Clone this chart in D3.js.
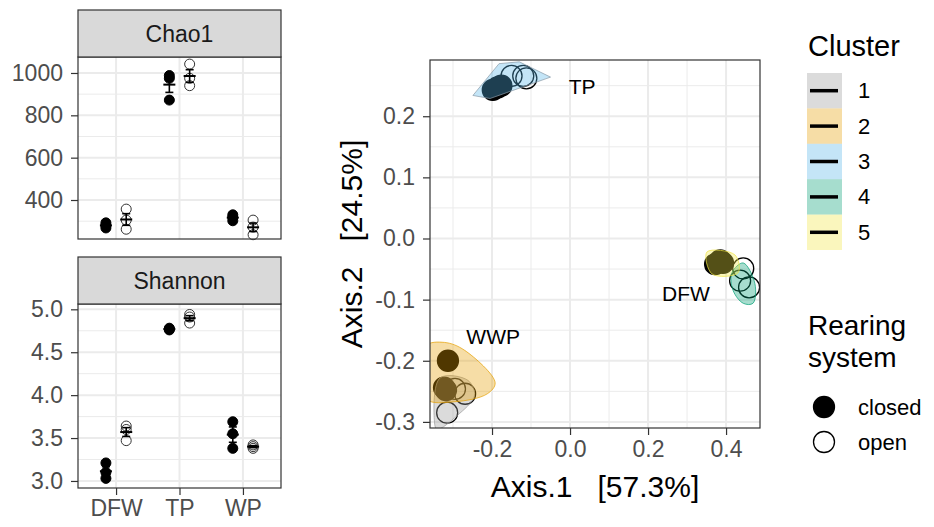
<!DOCTYPE html>
<html>
<head>
<meta charset="utf-8">
<script src="https://cdn.jsdelivr.net/npm/d3@7"></script>
<style>
  body { margin: 0; background: #fff; }
  text { font-family: "Liberation Sans", Arial, sans-serif; }
</style>
</head>
<body>
<div id="chart"></div>
<script>
// alpha diversity, three replicates per group and rearing system
var groups = ["DFW", "TP", "WP"];
var chao1Closed = [[292, 280, 268], [988, 975, 872], [330, 318, 302]];
var chao1Open = [[357, 305, 262], [1042, 975, 940], [305, 272, 236]];
var shannonClosed = [[3.21, 3.10, 3.03], [4.78, 4.77, 4.76], [3.69, 3.55, 3.38]];
var shannonOpen = [[3.64, 3.60, 3.47], [4.94, 4.91, 4.84], [3.42, 3.40, 3.38]];
var chao1Ticks = [400, 600, 800, 1000];
var shannonTicks = [3.0, 3.5, 4.0, 4.5, 5.0];

// PCoA samples
var pcoaX = [-0.198, -0.186, -0.176, -0.150, -0.112, -0.120,
             0.385, 0.372, 0.392, 0.444, 0.436, 0.459,
             -0.313, -0.323, -0.318, -0.295, -0.269, -0.315];
var pcoaY = [0.243, 0.247, 0.250, 0.266, 0.262, 0.266,
             -0.036, -0.042, -0.040, -0.049, -0.069, -0.080,
             -0.200, -0.244, -0.248, -0.246, -0.254, -0.285];
var pcoaSystem = ["closed", "closed", "closed", "open", "open", "open",
                  "closed", "closed", "closed", "open", "open", "open",
                  "closed", "closed", "closed", "open", "open", "open"];
var clusters = ["1", "2", "3", "4", "5"];
var clusterColors = ["#999999", "#E69F00", "#56B4E9", "#009E73", "#F0E442"];
// hull outlines (Axis.1, Axis.2)
var hull1 = [[-0.333, -0.228], [-0.262, -0.232], [-0.245, -0.257], [-0.29, -0.29], [-0.341, -0.312], [-0.348, -0.296]];
var hull2 = [[-0.37, -0.176], [-0.322, -0.170], [-0.27, -0.183], [-0.192, -0.236], [-0.212, -0.254], [-0.295, -0.267], [-0.37, -0.262]];
var hull3 = [[-0.249, 0.234], [-0.182, 0.286], [-0.130, 0.289], [-0.050, 0.264], [-0.205, 0.229]];
var hull4 = [[0.415, -0.056], [0.444, -0.040], [0.474, -0.074], [0.469, -0.106], [0.444, -0.106], [0.418, -0.085]];
var hull5 = [[0.351, -0.022], [0.423, -0.027], [0.431, -0.056], [0.364, -0.058]];
var hulls = [hull1, hull2, hull3, hull4, hull5];
var siteLabels = ["TP", "DFW", "WWP"];
var siteLabelX = [0.031, 0.297, -0.197];
var siteLabelY = [0.248, -0.090, -0.161];
var pcoaXTicks = [-0.2, 0.0, 0.2, 0.4];
var pcoaYTicks = [-0.3, -0.2, -0.1, 0.0, 0.1, 0.2];

var W = 934, H = 527;
var svg = d3.select("#chart").append("svg").attr("width", W).attr("height", H);
svg.append("rect").attr("width", W).attr("height", H).attr("fill", "#fff");

var gridCol = "#ebebeb", frameCol = "#333333", tickTextCol = "#4d4d4d";
var tickFont = 23, titleFont = 30;

function styleAxis(a) {
  a.select(".domain").remove();
  a.selectAll(".tick line").attr("stroke", frameCol).attr("stroke-width", 1.2);
  a.selectAll("text").attr("font-size", tickFont).attr("fill", tickTextCol)
    .attr("font-family", "Liberation Sans, Arial, sans-serif");
}

// ---------- left facets ----------
var xCat = d3.scalePoint().domain(groups).range([78, 281]).padding(0.6);
var dodge = xCat.step() * 0.16;

function drawFacet(title, top, bottom, yDomain, ticks, minor, closed, open, fmt, showX) {
  var y = d3.scaleLinear().domain(yDomain).range([bottom, top + 47]);
  var g = svg.append("g");
  var x0 = 78, x1 = 281, pTop = top + 47;

  g.selectAll("line.minor").data(minor).enter().append("line")
    .attr("x1", x0).attr("x2", x1).attr("y1", y).attr("y2", y)
    .attr("stroke", gridCol).attr("stroke-width", 1);
  g.selectAll("line.majorY").data(ticks).enter().append("line")
    .attr("x1", x0).attr("x2", x1).attr("y1", y).attr("y2", y)
    .attr("stroke", gridCol).attr("stroke-width", 2);
  g.selectAll("line.majorX").data(groups).enter().append("line")
    .attr("x1", xCat).attr("x2", xCat).attr("y1", pTop).attr("y2", bottom)
    .attr("stroke", gridCol).attr("stroke-width", 2);

  [closed, open].forEach(function(series, si) {
    var off = si === 0 ? -dodge : dodge;
    series.forEach(function(vals, gi) {
      var cx = xCat(groups[gi]) + off;
      var m = d3.mean(vals), se = d3.deviation(vals) / Math.sqrt(vals.length);
      g.selectAll(null).data(vals).enter().append("circle")
        .attr("cx", cx).attr("cy", function(d) { return y(d); }).attr("r", 5)
        .attr("fill", si === 0 ? "#000" : "none")
        .attr("stroke", si === 0 ? "#000" : "#333").attr("stroke-width", 1);
      var eb = g.append("g").attr("stroke", "#000").attr("stroke-width", 1.6);
      eb.append("line").attr("x1", cx).attr("x2", cx).attr("y1", y(m - se)).attr("y2", y(m + se));
      eb.append("line").attr("x1", cx - 4).attr("x2", cx + 4).attr("y1", y(m - se)).attr("y2", y(m - se));
      eb.append("line").attr("x1", cx - 4).attr("x2", cx + 4).attr("y1", y(m + se)).attr("y2", y(m + se));
      eb.append("line").attr("x1", cx - 6).attr("x2", cx + 6).attr("y1", y(m)).attr("y2", y(m)).attr("stroke-width", 2);
    });
  });

  g.append("rect").attr("x", x0).attr("y", pTop).attr("width", x1 - x0).attr("height", bottom - pTop)
    .attr("fill", "none").attr("stroke", frameCol).attr("stroke-width", 1.2);
  g.append("rect").attr("x", x0).attr("y", top).attr("width", x1 - x0).attr("height", 47)
    .attr("fill", "#d9d9d9").attr("stroke", frameCol).attr("stroke-width", 1.2);
  g.append("text").attr("x", (x0 + x1) / 2).attr("y", top + 24)
    .attr("text-anchor", "middle").attr("dominant-baseline", "central")
    .attr("font-size", tickFont).attr("fill", "#1a1a1a").text(title);

  var ax = g.append("g").attr("transform", "translate(" + x0 + ",0)")
    .call(d3.axisLeft(y).tickValues(ticks).tickSize(7).tickPadding(8).tickFormat(fmt));
  styleAxis(ax);

  if (showX) {
    var bx = g.append("g").attr("transform", "translate(0," + bottom + ")")
      .call(d3.axisBottom(xCat).tickSize(7).tickPadding(5));
    styleAxis(bx);
  }
}

drawFacet("Chao1", 10, 239, [215.8, 1075.5], chao1Ticks, [300, 500, 700, 900],
  chao1Closed, chao1Open, d3.format("d"), false);
drawFacet("Shannon", 257, 488, [2.918, 5.062], shannonTicks, [3.25, 3.75, 4.25, 4.75],
  shannonClosed, shannonOpen, d3.format(".1f"), true);

// ---------- PCoA ----------
var px0 = 430, px1 = 760, py0 = 60, py1 = 428;
var x = d3.scaleLinear().domain([-0.359, 0.487]).range([px0, px1]);
var y = d3.scaleLinear().domain([-0.31, 0.292]).range([py1, py0]);
var color = d3.scaleOrdinal().domain(clusters).range(clusterColors);

var pg = svg.append("g");
svg.append("clipPath").attr("id", "pclip").append("rect")
  .attr("x", px0).attr("y", py0).attr("width", px1 - px0).attr("height", py1 - py0);

var minorX = [-0.3, -0.1, 0.1, 0.3], minorY = [-0.25, -0.15, -0.05, 0.05, 0.15, 0.25];
pg.selectAll(null).data(minorX).enter().append("line")
  .attr("x1", x).attr("x2", x).attr("y1", py0).attr("y2", py1).attr("stroke", gridCol).attr("stroke-width", 1);
pg.selectAll(null).data(minorY).enter().append("line")
  .attr("y1", y).attr("y2", y).attr("x1", px0).attr("x2", px1).attr("stroke", gridCol).attr("stroke-width", 1);
pg.selectAll(null).data(pcoaXTicks).enter().append("line")
  .attr("x1", x).attr("x2", x).attr("y1", py0).attr("y2", py1).attr("stroke", gridCol).attr("stroke-width", 2);
pg.selectAll(null).data(pcoaYTicks).enter().append("line")
  .attr("y1", y).attr("y2", y).attr("x1", px0).attr("x2", px1).attr("stroke", gridCol).attr("stroke-width", 2);

var inner = pg.append("g").attr("clip-path", "url(#pclip)");
var idx = d3.range(pcoaX.length);
inner.selectAll("circle.pt").data(idx).enter().append("circle")
  .attr("cx", function(i) { return x(pcoaX[i]); })
  .attr("cy", function(i) { return y(pcoaY[i]); })
  .attr("r", 10.5)
  .attr("fill", function(i) { return pcoaSystem[i] === "closed" ? "#000" : "none"; })
  .attr("stroke", "#000").attr("stroke-width", 1.3);

function hullPath(d, i) {
  // TP hull has sharp tips, the others are rounded
  var curve = i === 2 ? d3.curveLinearClosed : d3.curveCatmullRomClosed.alpha(0.5);
  return d3.line()
    .x(function(p) { return x(p[0]); })
    .y(function(p) { return y(p[1]); })
    .curve(curve)(d);
}
inner.selectAll("path.hull").data(hulls).enter().append("path")
  .attr("d", hullPath)
  .attr("fill", function(d, i) { return color(clusters[i]); })
  .attr("fill-opacity", 0.35)
  .attr("stroke", function(d, i) { return i === 2 ? "#8a9aa6" : color(clusters[i]); })
  .attr("stroke-opacity", 0.7).attr("stroke-width", 1)
  .attr("stroke-linejoin", "round");

pg.selectAll("text.site").data(siteLabels).enter().append("text")
  .attr("x", function(d, i) { return x(siteLabelX[i]); })
  .attr("y", function(d, i) { return y(siteLabelY[i]); })
  .attr("text-anchor", "middle").attr("dominant-baseline", "central")
  .attr("font-size", 21).attr("fill", "#000").text(function(d) { return d; });

pg.append("rect").attr("x", px0).attr("y", py0).attr("width", px1 - px0).attr("height", py1 - py0)
  .attr("fill", "none").attr("stroke", frameCol).attr("stroke-width", 1.2);

var fmt1 = function(d) { return d3.format(".1f")(d).replace("−", "-"); };
var axL = pg.append("g").attr("transform", "translate(" + px0 + ",0)")
  .call(d3.axisLeft(y).tickValues(pcoaYTicks).tickSize(7).tickPadding(8).tickFormat(fmt1));
var axB = pg.append("g").attr("transform", "translate(0," + py1 + ")")
  .call(d3.axisBottom(x).tickValues(pcoaXTicks).tickSize(7).tickPadding(6).tickFormat(fmt1));
styleAxis(axL);
styleAxis(axB);

svg.append("text").attr("x", (px0 + px1) / 2).attr("y", 486)
  .attr("text-anchor", "middle").attr("dominant-baseline", "central")
  .attr("font-size", titleFont).attr("fill", "#000").attr("xml:space", "preserve")
  .text("Axis.1   [57.3%]");
svg.append("text").attr("transform", "translate(351," + ((py0 + py1) / 2) + ") rotate(-90)")
  .attr("text-anchor", "middle").attr("dominant-baseline", "central")
  .attr("font-size", titleFont).attr("fill", "#000").attr("xml:space", "preserve")
  .text("Axis.2   [24.5%]");

// ---------- legends ----------
var lg = svg.append("g");
lg.append("text").attr("x", 808).attr("y", 56).attr("font-size", 29).text("Cluster");
var keyH = 35.4;
clusters.forEach(function(c, i) {
  var ky = 73 + i * keyH;
  lg.append("rect").attr("x", 807).attr("y", ky).attr("width", 35).attr("height", keyH)
    .attr("fill", color(c)).attr("fill-opacity", 0.35);
  lg.append("line").attr("x1", 810).attr("x2", 838).attr("y1", ky + keyH / 2).attr("y2", ky + keyH / 2)
    .attr("stroke", "#000").attr("stroke-width", 3.5);
  lg.append("text").attr("x", 858).attr("y", ky + keyH / 2).attr("dominant-baseline", "central")
    .attr("font-size", 22).text(c);
});

lg.append("text").attr("x", 808).attr("y", 335).attr("font-size", 28).text("Rearing");
lg.append("text").attr("x", 808).attr("y", 367).attr("font-size", 28).text("system");
["closed", "open"].forEach(function(s, i) {
  var cy = 407 + i * 35;
  lg.append("circle").attr("cx", 824).attr("cy", cy).attr("r", 10.5)
    .attr("fill", s === "closed" ? "#000" : "none").attr("stroke", "#000").attr("stroke-width", 1.3);
  lg.append("text").attr("x", 858).attr("y", cy).attr("dominant-baseline", "central")
    .attr("font-size", 22).text(s);
});
</script>
</body>
</html>
